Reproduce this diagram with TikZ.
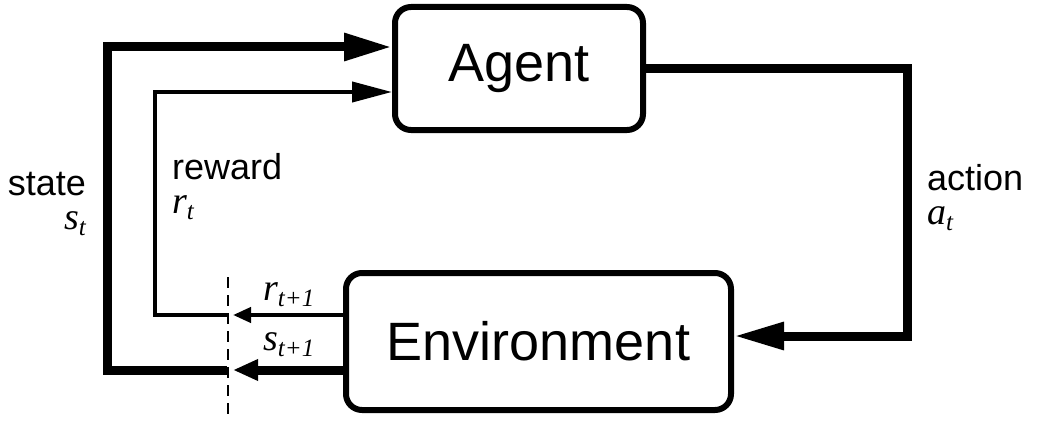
\documentclass[tikz,border=0pt]{standalone}
\usepackage{fontspec}
\setmainfont{Liberation Sans}
\newfontfamily\rlsymfont{Liberation Serif}
\usetikzlibrary{arrows.meta}
\newcommand{\rlsym}[2]{{\rlsymfont\itshape\fontsize{38}{38}\selectfont #1\raisebox{-6pt}{\fontsize{25}{25}\selectfont #2}}}

\begin{document}
\begin{tikzpicture}[x=1pt,y=-1pt, every node/.style={font=\fontsize{36}{34}\selectfont, inner sep=0pt},
  block/.style={draw, rounded corners=16pt, line width=6pt, font=\fontsize{54}{54}\selectfont},
  heavy/.style={line width=9pt},
  light/.style={line width=4pt},
  cutline/.style={line width=2.5pt, dash pattern=on 11pt off 7pt}]
  \useasboundingbox (0,0) rectangle (1042,428);
  \node[block, minimum width=248pt, minimum height=123pt] (agent) at (519,68.5) {Agent};
  \node[block, minimum width=385pt, minimum height=137pt] (env) at (538.5,341.5) {Environment};
  \coordinate (cutr) at (230,315);
  \coordinate (cuts) at (230,370);
  \coordinate (cuttop) at (228,277);
  \coordinate (cutbot) at (228,416);
  \coordinate (stcorner) at (107,47);
  \coordinate (rwcorner) at (155,92);
  \coordinate (accorner) at (907,336);
  % action
  \draw[heavy, -{Triangle[length=50pt,width=26pt]}] (agent.east) -| (accorner) -- (accorner -| env.east);
  % state
  \draw[heavy, -{Triangle[length=25pt,width=20pt]}] (env.west |- cuts) -- ([xshift=3pt]cuts);
  \draw[heavy, -{Triangle[length=48pt,width=26pt]}] ([xshift=-3pt]cuts) -| (stcorner) -- (stcorner -| agent.west);
  % reward
  \draw[light, -{Triangle[length=18pt,width=15pt]}] (env.west |- cutr) -- ([xshift=3pt]cutr);
  \draw[light, -{Triangle[length=40pt,width=20pt]}] ([xshift=-3pt]cutr) -| (rwcorner) -- (rwcorner -| agent.west);
  \draw[cutline] (cuttop) -- (cutbot);
  \node[anchor=base east, align=right] (statelab) at (86,229) {state\\\rlsym{s}{t}};
  \node[anchor=base west, align=left] (rewardlab) at (172,213) {reward\\\rlsym{r}{t}};
  \node[anchor=base west, align=left] (actionlab) at (927,224) {action\\\rlsym{a}{t}};
  \node[anchor=base west] (rnext) at (263,300) {\rlsym{r}{t+1}};
  \node[anchor=base west] (snext) at (263,350) {\rlsym{s}{t+1}};
\end{tikzpicture}
\end{document}
